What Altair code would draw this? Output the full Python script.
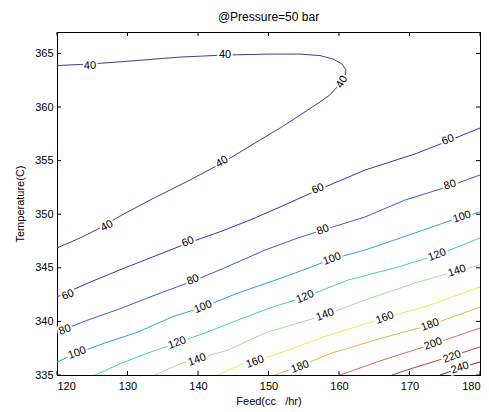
import altair as alt
import pandas as pd

levels = [40, 60, 80, 100, 120, 140, 160, 180, 200, 220, 240]
colors = ["#3f3f8f", "#3434ae", "#3a60c4", "#2fa2d2", "#3fcfcf", "#a2dc9a",
          "#ecec48", "#e8b444", "#dc6a5a", "#c23a46", "#8c1c28"]

x_ticks = [120, 130, 140, 150, 160, 170, 180]
y_ticks = [335, 340, 345, 350, 355, 360, 365]

feed_40 = [120.0, 124.68, 130.35, 137.45, 143.83, 150.21, 154.47, 157.30, 159.15, 160.43, 160.99,
           160.85, 160.14, 158.72, 157.30, 154.47, 151.63, 149.50, 147.38, 143.40, 138.87, 133.19,
           128.94, 126.10, 123.26, 120.0]
temp_40 = [363.87, 364.01, 364.29, 364.66, 364.85, 364.94, 364.94, 364.80, 364.48, 364.01, 363.46,
           362.90, 362.16, 361.14, 360.47, 359.25, 358.04, 357.20, 356.36, 354.78, 353.19, 351.32,
           349.83, 348.71, 347.78, 346.85]

feed_60 = [120.0, 124.40, 129.22, 133.90, 138.58, 143.40, 147.38, 151.63, 157.02, 163.69, 170.78, 175.46, 180.0]
temp_60 = [342.28, 343.58, 344.89, 346.10, 347.31, 348.43, 349.46, 350.67, 352.26, 354.12, 355.62, 356.83, 358.04]

feed_80 = [120.0, 124.40, 129.22, 133.90, 139.29, 143.40, 149.50, 154.18, 157.73, 163.69, 169.36, 175.74, 180.0]
temp_80 = [339.01, 340.13, 341.25, 342.46, 343.77, 344.89, 346.66, 347.78, 348.53, 349.74, 351.32, 352.63, 353.66]

feed_100 = [120.0, 122.84, 126.81, 131.49, 136.31, 140.71, 145.67, 150.21, 154.18, 159.01, 163.69, 170.78, 176.03, 180.0]
temp_100 = [336.21, 337.05, 337.99, 339.01, 340.41, 341.34, 342.65, 343.68, 344.61, 345.82, 346.66, 348.25, 349.46, 350.21]

feed_120 = [125.39, 129.22, 132.91, 137.02, 140.99, 145.67, 150.21, 155.18, 161.28, 168.37, 173.90, 180.0]
temp_120 = [335.00, 336.12, 337.05, 337.99, 338.92, 340.13, 341.25, 342.28, 343.86, 345.07, 346.19, 347.78]

feed_140 = [133.90, 137.73, 139.86, 144.26, 149.50, 158.01, 163.69, 170.78, 176.74, 180.0]
temp_140 = [335.00, 336.12, 336.49, 337.33, 338.92, 340.60, 342.00, 343.58, 344.70, 345.26]

feed_160 = [142.84, 146.24, 148.09, 151.63, 157.73, 166.52, 172.91, 180.0]
temp_160 = [335.00, 336.03, 336.31, 337.05, 338.54, 340.32, 341.53, 343.21]

feed_180 = [150.92, 154.47, 159.01, 166.10, 172.91, 180.0]
temp_180 = [335.00, 335.84, 337.05, 338.45, 339.66, 341.34]

feed_200 = [160.14, 165.82, 173.33, 180.0]
temp_200 = [335.00, 336.31, 337.89, 339.38]

feed_220 = [167.52, 170.50, 176.03, 180.0]
temp_220 = [335.00, 335.65, 336.77, 337.61]

feed_240 = [174.33, 177.16, 180.0]
temp_240 = [335.00, 335.65, 336.21]

label_level = [40, 40, 40, 40, 40,
               60, 60, 60, 60,
               80, 80, 80, 80,
               100, 100, 100, 100,
               120, 120, 120,
               140, 140, 140,
               160, 160,
               180, 180,
               200, 220, 240]
label_feed = [124.68, 143.83, 160.43, 143.40, 127.09,
              121.56, 138.58, 157.02, 175.46,
              121.13, 139.29, 157.73, 175.74,
              122.84, 140.71, 159.01, 177.45,
              137.02, 155.18, 173.90,
              139.86, 158.01, 176.74,
              148.09, 166.52,
              154.47, 172.91,
              173.33, 176.03, 177.16]
label_temp = [363.83, 364.85, 362.33, 354.87, 348.90,
              342.46, 347.41, 352.35, 356.92,
              339.20, 343.86, 348.53, 352.72,
              337.05, 341.34, 345.82, 349.74,
              337.99, 342.28, 346.19,
              336.40, 340.60, 344.70,
              336.21, 340.32,
              335.75, 339.66,
              337.89, 336.68, 335.65]
label_angle = [357, 0, 300, 330, 331,
               338, 338, 338, 340,
               340, 338, 340, 342,
               340, 338, 340, 342,
               340, 338, 340,
               340, 340, 342,
               340, 340,
               340, 340,
               340, 340, 342]

series = {
    40: (feed_40, temp_40), 60: (feed_60, temp_60), 80: (feed_80, temp_80),
    100: (feed_100, temp_100), 120: (feed_120, temp_120), 140: (feed_140, temp_140),
    160: (feed_160, temp_160), 180: (feed_180, temp_180), 200: (feed_200, temp_200),
    220: (feed_220, temp_220), 240: (feed_240, temp_240),
}
rows = []
for lev, (fs, ts) in series.items():
    for i, (f, t) in enumerate(zip(fs, ts)):
        rows.append({"level": lev, "i": i, "feed": f, "temp": t})
lines_df = pd.DataFrame(rows)

labels_df = pd.DataFrame({
    "level": label_level, "feed": label_feed, "temp": label_temp, "angle": label_angle,
})
labels_df["label"] = labels_df["level"].astype(str)

FONT = "Liberation Sans"
W, H = 423, 343
xscale = alt.Scale(domain=[120, 180], nice=False, zero=False)
yscale = alt.Scale(domain=[335, 367], nice=False, zero=False)

xenc = alt.X("feed:Q", scale=xscale,
             axis=alt.Axis(values=x_ticks, format="d", title="Feed(cc\u00a0\u00a0\u00a0/hr)",
                           labelPadding=5, titlePadding=4))
yenc = alt.Y("temp:Q", scale=yscale,
             axis=alt.Axis(values=y_ticks, format="d", title="Temperature(C)",
                           labelPadding=4, titlePadding=9))

lines = alt.Chart(lines_df).mark_line(strokeWidth=1, clip=True).encode(
    x=xenc, y=yenc,
    color=alt.Color("level:O", scale=alt.Scale(domain=levels, range=colors), legend=None),
    detail="level:O",
    order="i:Q",
)

halo = alt.Chart(labels_df).mark_text(font=FONT, fontSize=11, fill="white", stroke="white",
                                      strokeWidth=4).encode(
    x="feed:Q", y="temp:Q", text="label:N", angle=alt.Angle("angle:Q", scale=None))
text = alt.Chart(labels_df).mark_text(font=FONT, fontSize=11, color="black").encode(
    x="feed:Q", y="temp:Q", text="label:N", angle=alt.Angle("angle:Q", scale=None))

xt_df = pd.DataFrame({"feed": x_ticks})
yt_df = pd.DataFrame({"temp": y_ticks})
tick_bottom = alt.Chart(xt_df).mark_rule(color="black", strokeWidth=1).encode(
    x="feed:Q", y=alt.value(H), y2=alt.value(H - 4))
tick_top = alt.Chart(xt_df).mark_rule(color="black", strokeWidth=1).encode(
    x="feed:Q", y=alt.value(0), y2=alt.value(4))
tick_left = alt.Chart(yt_df).mark_rule(color="black", strokeWidth=1).encode(
    y="temp:Q", x=alt.value(0), x2=alt.value(4))
tick_right = alt.Chart(yt_df).mark_rule(color="black", strokeWidth=1).encode(
    y="temp:Q", x=alt.value(W), x2=alt.value(W - 4))

chart = alt.layer(lines, halo, text, tick_bottom, tick_top, tick_left, tick_right).properties(
    width=W, height=H,
    autosize=alt.AutoSizeParams(type="none"),
    padding={"left": 49, "top": 24, "right": 1, "bottom": 34},
    title=alt.TitleParams("@Pressure=50 bar", font=FONT, fontSize=12, fontWeight="normal",
                          offset=8, anchor="middle", color="black"),
    background="white",
).configure_view(stroke="black", strokeWidth=1).configure_axis(
    domainColor="black", labelColor="black", titleColor="black",
    labelFont=FONT, titleFont=FONT, labelFontSize=11, titleFontSize=11,
    titleFontWeight="normal", ticks=False, grid=False,
)

chart.save("out.html", embed_options={"renderer": "svg", "actions": False})
